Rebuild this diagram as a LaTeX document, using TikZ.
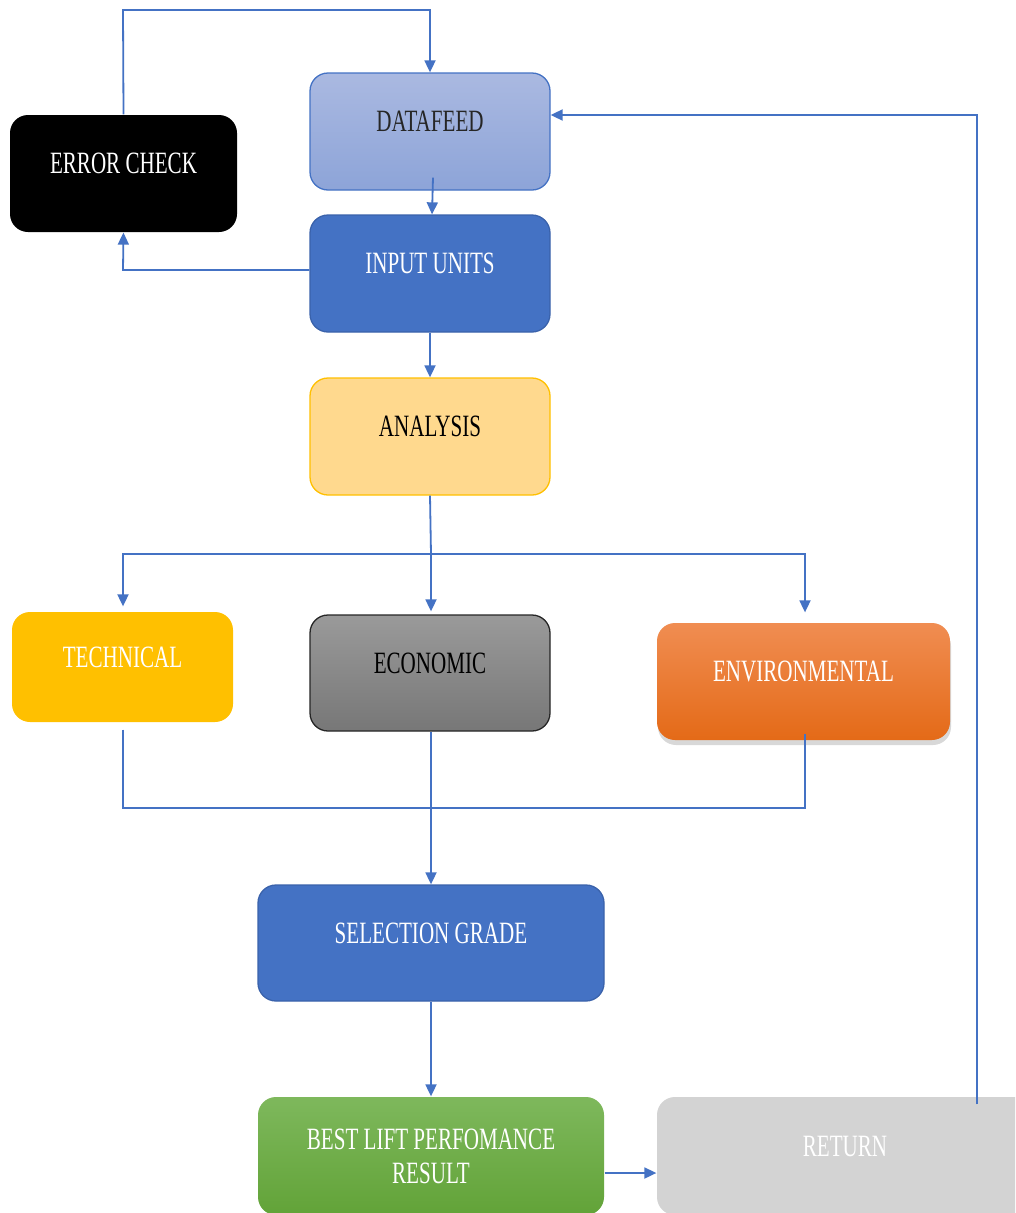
\documentclass[tikz,border=0pt]{standalone}
\usepackage{fontspec}
\setmainfont{Liberation Serif}[FakeStretch=0.68]
\usetikzlibrary{arrows.meta,shadows}
\definecolor{lnblue}{HTML}{4472C4}
\definecolor{dkblue}{HTML}{3A62AB}
\definecolor{dfTop}{HTML}{AAB9E1}
\definecolor{dfBot}{HTML}{8DA4D8}
\definecolor{anFill}{HTML}{FFD98E}
\definecolor{anDraw}{HTML}{FFC000}
\definecolor{techFill}{HTML}{FFC000}
\definecolor{ecTop}{HTML}{9A9A9A}
\definecolor{ecBot}{HTML}{777777}
\definecolor{envTop}{HTML}{F08D52}
\definecolor{envBot}{HTML}{E46A17}
\definecolor{grTop}{HTML}{7EB85C}
\definecolor{grBot}{HTML}{62A338}
\definecolor{retFill}{HTML}{D3D3D3}
\tikzset{
  box/.style={rectangle, rounded corners=18pt, line width=1.3pt, inner sep=0pt,
    font=\fontsize{31}{35}\selectfont, align=center},
  upper/.style={text height=21pt, text depth=21pt},
  conn/.style={draw=lnblue, line width=1.8pt, -{Triangle[length=12pt,width=11pt]}},
  plain/.style={draw=lnblue, line width=1.8pt}
}
\begin{document}
\begin{tikzpicture}[x=1pt,y=-1pt]
\clip (0,0) rectangle (1015,1213);
\fill[white] (0,0) rectangle (1015,1213);
% nodes
\node[box, upper, fill=black, text=white, minimum width=227pt, minimum height=117pt] (err) at (123.5,173.5) {ERROR CHECK};
\node[box, upper, draw=lnblue, top color=dfTop, bottom color=dfBot, text=black!85, minimum width=240pt, minimum height=117pt] (df) at (430,131.5) {DATAFEED};
\node[box, upper, draw=dkblue, fill=lnblue, text=white, minimum width=240pt, minimum height=117pt] (in) at (430,273.5) {INPUT UNITS};
\node[box, upper, draw=anDraw, fill=anFill, text=black, minimum width=240pt, minimum height=117pt] (an) at (430,436.5) {ANALYSIS};
\node[box, upper, fill=techFill, text=white, minimum width=221pt, minimum height=110pt] (tech) at (122.5,667) {TECHNICAL};
\node[box, upper, draw=black!85, top color=ecTop, bottom color=ecBot, text=black, minimum width=240pt, minimum height=116pt] (eco) at (430,673) {ECONOMIC};
\node[box, upper, top color=envTop, bottom color=envBot, text=white, minimum width=293pt, minimum height=117pt,
  drop shadow={shadow xshift=1pt, shadow yshift=-5pt, opacity=0.3}] (env) at (803.5,681.5) {ENVIRONMENTAL};
\node[box, upper, draw=dkblue, fill=lnblue, text=white, minimum width=346pt, minimum height=116pt] (sel) at (431,943) {SELECTION GRADE};
\node[box, top color=grTop, bottom color=grBot, text=white, minimum width=346pt, minimum height=118pt] (best) at (431,1156) {BEST LIFT PERFOMANCE\\[-1pt]RESULT};
\node[box, upper, fill=retFill, text=white, minimum width=376pt, minimum height=118pt] (ret) at (845,1156) {RETURN};
% helper coordinates
\coordinate (c1) at (123,10);
\coordinate (c2) at (430,10);
\coordinate (c3) at (123,270);
\coordinate (b0) at (431,554);
\coordinate (bl) at (123,554);
\coordinate (br) at (805,554);
\coordinate (j0) at (431,808);
\coordinate (jl) at (123,808);
\coordinate (jr) at (805,808);
\coordinate (r1) at (977,115);
% connectors
\draw[conn] (err.north) -- (c1) -- (c2) -- (df.north);
\draw[conn] ([xshift=3pt,yshift=13pt]df.south) -- ([xshift=2pt]in.north);
\draw[conn] (in.west |- c3) -- (c3) -- (err.south);
\draw[conn] (in.south) -- (an.north);
\draw[plain] (an.south) -- (b0);
\draw[conn] (b0) -- (bl) -- ([yshift=5pt]tech.north -| bl);
\draw[conn] (b0) -- ([yshift=3pt]eco.north -| b0);
\draw[conn] (b0) -- (br) -- ([yshift=10pt]env.north -| br);
\draw[plain] ([yshift=-7pt]tech.south -| jl) -- (jl) -- (jr) -- ([yshift=7pt]env.south -| jr);
\draw[conn] ([xshift=1pt]eco.south) -- (sel.north);
\draw[conn] (sel.south) -- (best.north);
\draw[conn] ([yshift=-17pt]best.east) -- ([yshift=-17pt]best.east -| ret.west);
\draw[conn] ([yshift=-8pt]ret.north -| r1) -- (r1) -- (r1 -| df.east);
\end{tikzpicture}
\end{document}
